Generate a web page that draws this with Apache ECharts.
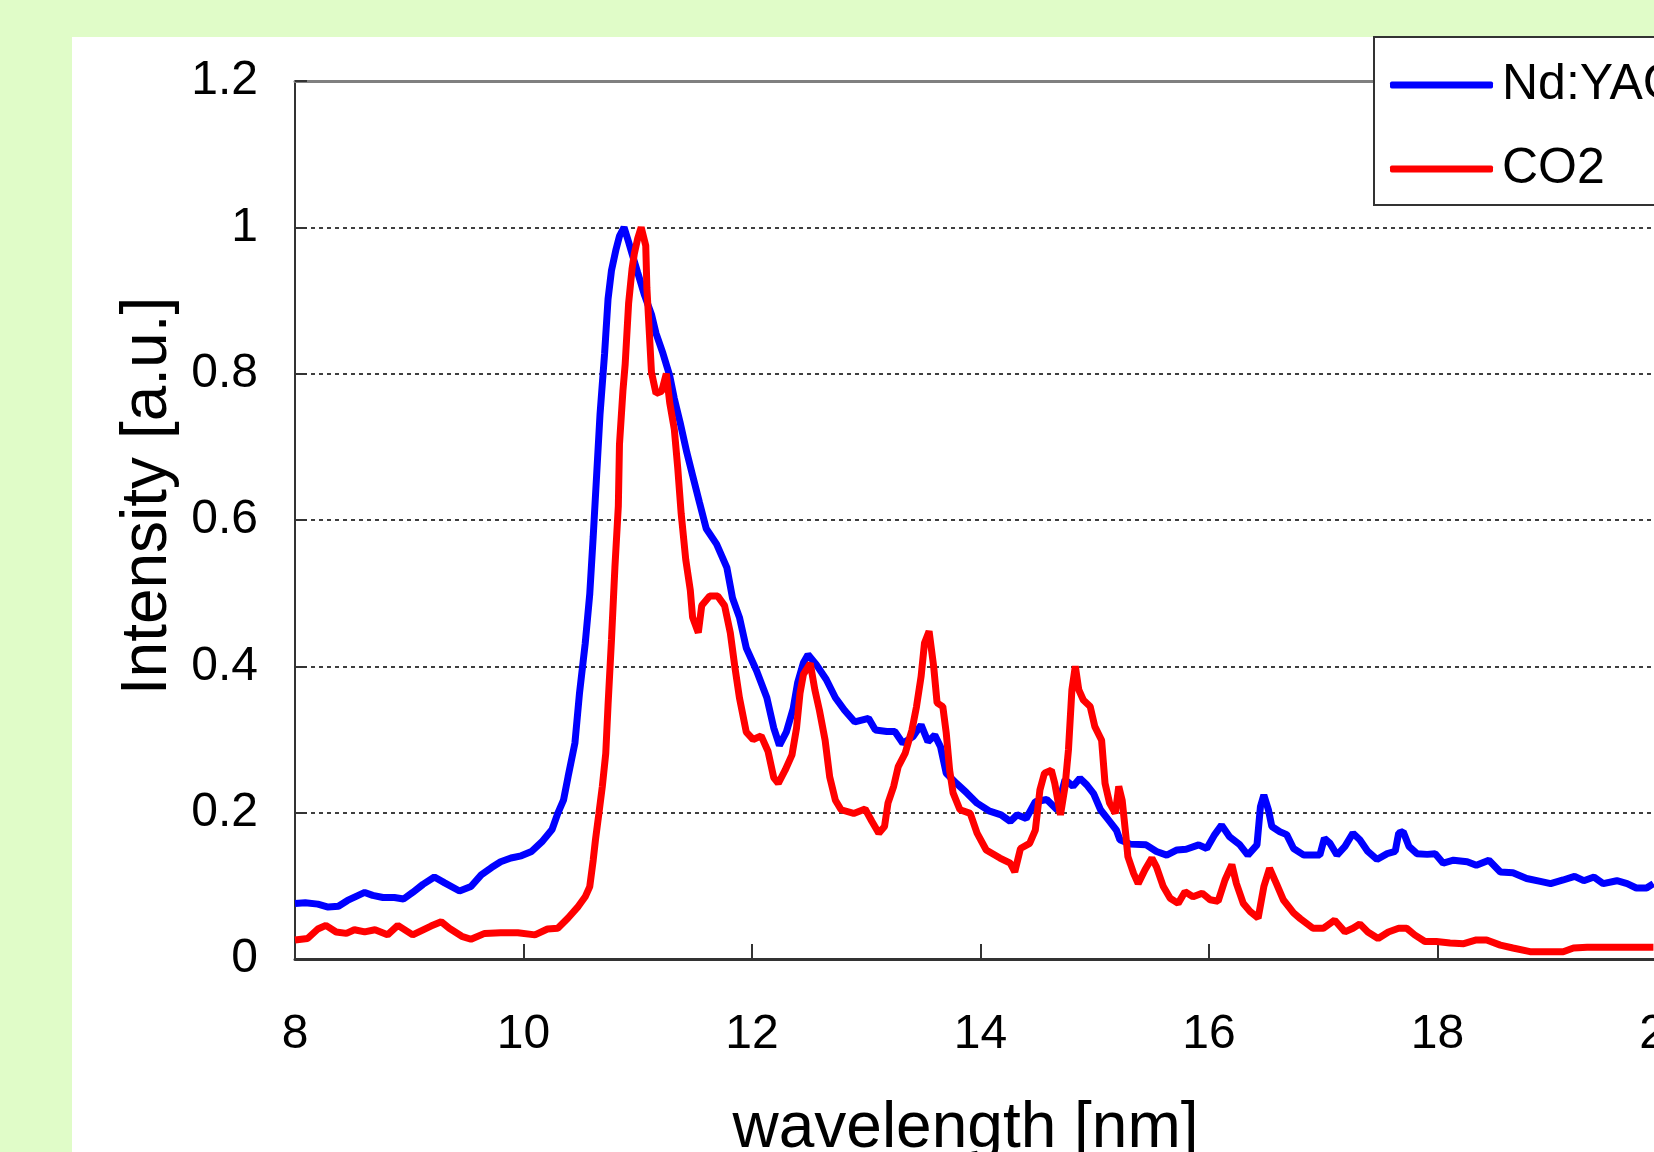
<!DOCTYPE html>
<html>
<head>
<meta charset="utf-8">
<title>Intensity vs wavelength</title>
<script src="https://cdn.jsdelivr.net/npm/echarts@6/dist/echarts.min.js"></script>
<style>
  html, body {
    margin: 0;
    padding: 0;
    width: 1654px;
    height: 1152px;
    overflow: hidden;
    background: #e0fcc8;
  }
  .panel {
    position: absolute;
    left: 72px;
    top: 37px;
    width: 1700px;
    height: 1200px;
    background: #fff;
  }
  #chart {
    position: absolute;
    left: 0;
    top: 0;
    width: 1720px;
    height: 1220px;
  }
</style>
</head>
<body>
<div class="panel"></div>
<div id="chart"></div>
<script>
// Nd:YAG spectrum (blue)
const yagWavelength = [
  8.00, 8.09, 8.20, 8.29, 8.38, 8.46, 8.54, 8.61, 8.68, 8.77, 8.87, 8.95, 9.03, 9.12, 9.22, 9.31,
  9.44, 9.54, 9.63, 9.72, 9.80, 9.89, 9.98, 10.07, 10.16, 10.25, 10.30, 10.35, 10.39, 10.45, 10.49,
  10.54, 10.58, 10.61, 10.64, 10.67, 10.71, 10.74, 10.77, 10.81, 10.84, 10.88, 10.92, 10.95, 11.00,
  11.06, 11.12, 11.16, 11.22, 11.28, 11.32, 11.37, 11.43, 11.48, 11.54, 11.60, 11.69, 11.78, 11.83,
  11.89, 11.95, 12.04, 12.13, 12.19, 12.24, 12.30, 12.36, 12.40, 12.45, 12.49, 12.56, 12.65, 12.73,
  12.81, 12.90, 13.02, 13.08, 13.18, 13.25, 13.32, 13.41, 13.48, 13.54, 13.60, 13.65, 13.70, 13.79,
  13.88, 13.97, 14.08, 14.18, 14.26, 14.32, 14.40, 14.48, 14.58, 14.67, 14.74, 14.81, 14.87, 14.93,
  14.99, 15.05, 15.13, 15.19, 15.22, 15.31, 15.45, 15.54, 15.63, 15.72, 15.80, 15.91, 15.98, 16.05,
  16.11, 16.18, 16.27, 16.34, 16.42, 16.45, 16.48, 16.52, 16.55, 16.62, 16.68, 16.74, 16.83, 16.97,
  17.01, 17.06, 17.12, 17.19, 17.26, 17.32, 17.39, 17.47, 17.56, 17.63, 17.66, 17.70, 17.75, 17.82,
  17.91, 17.98, 18.05, 18.14, 18.26, 18.34, 18.45, 18.55, 18.66, 18.78, 18.90, 18.99, 19.10, 19.20,
  19.28, 19.37, 19.45, 19.57, 19.66, 19.74, 19.83, 19.89
];
const yagIntensity = [
  0.076, 0.077, 0.075, 0.071, 0.072, 0.080, 0.086, 0.091, 0.087, 0.084, 0.084, 0.082, 0.091, 0.102, 0.112, 0.104,
  0.093, 0.099, 0.115, 0.125, 0.133, 0.138, 0.141, 0.147, 0.160, 0.177, 0.199, 0.217, 0.249, 0.295, 0.363,
  0.431, 0.499, 0.577, 0.661, 0.745, 0.828, 0.902, 0.941, 0.970, 0.988, 1.000, 0.980, 0.964, 0.938,
  0.907, 0.881, 0.855, 0.828, 0.797, 0.766, 0.734, 0.692, 0.661, 0.624, 0.588, 0.567, 0.535, 0.493,
  0.467, 0.425, 0.394, 0.357, 0.316, 0.292, 0.310, 0.342, 0.378, 0.405, 0.416, 0.403, 0.382, 0.357,
  0.340, 0.324, 0.329, 0.313, 0.311, 0.311, 0.295, 0.304, 0.320, 0.297, 0.306, 0.290, 0.254, 0.240,
  0.227, 0.213, 0.202, 0.197, 0.188, 0.197, 0.192, 0.215, 0.218, 0.204, 0.245, 0.236, 0.247, 0.238,
  0.226, 0.204, 0.188, 0.176, 0.163, 0.157, 0.156, 0.147, 0.142, 0.149, 0.150, 0.156, 0.151, 0.170,
  0.183, 0.167, 0.156, 0.142, 0.156, 0.208, 0.224, 0.204, 0.181, 0.174, 0.170, 0.151, 0.142, 0.142,
  0.165, 0.158, 0.142, 0.154, 0.172, 0.163, 0.147, 0.136, 0.144, 0.147, 0.172, 0.174, 0.154, 0.144,
  0.143, 0.144, 0.131, 0.135, 0.133, 0.128, 0.135, 0.119, 0.118, 0.110, 0.106, 0.103, 0.108, 0.113,
  0.107, 0.112, 0.103, 0.107, 0.103, 0.097, 0.097, 0.103
];

// CO2 spectrum (red)
const co2Wavelength = [
  8.00, 8.11, 8.20, 8.27, 8.36, 8.45, 8.52, 8.61, 8.70, 8.81, 8.90, 9.03, 9.19, 9.28, 9.35, 9.46,
  9.54, 9.66, 9.80, 9.95, 10.10, 10.21, 10.30, 10.39, 10.48, 10.54, 10.58, 10.61, 10.63, 10.66, 10.69,
  10.72, 10.74, 10.77, 10.80, 10.83, 10.84, 10.87, 10.89, 10.92, 10.95, 10.97, 11.00, 11.03, 11.07,
  11.08, 11.10, 11.12, 11.16, 11.21, 11.25, 11.28, 11.32, 11.35, 11.38, 11.42, 11.46, 11.48, 11.53,
  11.56, 11.63, 11.70, 11.76, 11.81, 11.85, 11.89, 11.95, 12.01, 12.08, 12.14, 12.19, 12.23, 12.29,
  12.35, 12.39, 12.42, 12.45, 12.51, 12.55, 12.59, 12.64, 12.68, 12.73, 12.78, 12.89, 12.99, 13.05,
  13.11, 13.16, 13.19, 13.24, 13.28, 13.34, 13.40, 13.44, 13.48, 13.51, 13.55, 13.59, 13.62, 13.67,
  13.70, 13.73, 13.76, 13.82, 13.91, 13.97, 14.05, 14.17, 14.26, 14.30, 14.35, 14.43, 14.48, 14.52,
  14.56, 14.62, 14.65, 14.70, 14.74, 14.77, 14.80, 14.83, 14.86, 14.90, 14.96, 15.00, 15.06, 15.09,
  15.13, 15.18, 15.21, 15.24, 15.27, 15.29, 15.34, 15.38, 15.44, 15.50, 15.54, 15.60, 15.66, 15.73,
  15.79, 15.86, 15.94, 16.01, 16.08, 16.14, 16.20, 16.24, 16.30, 16.36, 16.43, 16.48, 16.53, 16.59,
  16.65, 16.74, 16.80, 16.91, 17.00, 17.10, 17.19, 17.26, 17.32, 17.39, 17.48, 17.57, 17.66, 17.73,
  17.80, 17.89, 17.99, 18.11, 18.23, 18.34, 18.43, 18.55, 18.66, 18.81, 18.96, 19.10, 19.19, 19.31,
  19.57, 19.89
];
const co2Intensity = [
  0.026, 0.028, 0.041, 0.046, 0.037, 0.035, 0.040, 0.037, 0.040, 0.033, 0.046, 0.033, 0.045, 0.051, 0.042, 0.031,
  0.027, 0.035, 0.036, 0.036, 0.033, 0.041, 0.042, 0.056, 0.072, 0.085, 0.099, 0.135, 0.163, 0.199, 0.236,
  0.281, 0.347, 0.436, 0.535, 0.619, 0.703, 0.776, 0.813, 0.896, 0.943, 0.964, 0.985, 1.000, 0.975,
  0.917, 0.860, 0.802, 0.773, 0.776, 0.800, 0.760, 0.724, 0.671, 0.609, 0.546, 0.504, 0.467, 0.446,
  0.483, 0.496, 0.496, 0.483, 0.446, 0.399, 0.357, 0.310, 0.300, 0.305, 0.284, 0.248, 0.240, 0.258,
  0.279, 0.316, 0.363, 0.389, 0.404, 0.368, 0.340, 0.299, 0.249, 0.217, 0.204, 0.199, 0.205, 0.188,
  0.172, 0.181, 0.213, 0.236, 0.263, 0.281, 0.313, 0.345, 0.386, 0.432, 0.448, 0.400, 0.350, 0.345,
  0.309, 0.258, 0.227, 0.204, 0.199, 0.172, 0.149, 0.138, 0.131, 0.119, 0.151, 0.158, 0.176, 0.231,
  0.254, 0.258, 0.240, 0.197, 0.236, 0.286, 0.368, 0.400, 0.368, 0.354, 0.345, 0.318, 0.299, 0.240,
  0.213, 0.199, 0.236, 0.217, 0.172, 0.140, 0.117, 0.103, 0.122, 0.138, 0.126, 0.099, 0.083, 0.076,
  0.092, 0.085, 0.090, 0.081, 0.079, 0.108, 0.129, 0.103, 0.076, 0.065, 0.056, 0.099, 0.124, 0.103,
  0.081, 0.063, 0.055, 0.042, 0.042, 0.053, 0.037, 0.042, 0.048, 0.037, 0.028, 0.037, 0.042, 0.042,
  0.033, 0.024, 0.024, 0.022, 0.021, 0.026, 0.026, 0.019, 0.015, 0.010, 0.010, 0.010, 0.015, 0.016,
  0.016, 0.016
];

const seriesNames = ['Nd:YAG', 'CO2'];

const pairs = (xs, ys) => xs.map((x, i) => [x, ys[i]]);

const FONT = '"Liberation Sans", Arial, sans-serif';

const chart = echarts.init(document.getElementById('chart'));

const option = {
  animation: false,
  grid: {
    left: 295,
    top: 81,
    width: 1371,
    height: 878,
    show: false,
    outerBoundsMode: 'none'
  },
  legend: {
    data: seriesNames,
    orient: 'vertical',
    left: 1374,
    top: 37,
    icon: 'roundRect',
    itemWidth: 103,
    itemHeight: 7,
    itemGap: 34,
    padding: [23, 30, 11, 16],
    backgroundColor: '#fff',
    borderColor: '#333',
    borderWidth: 2,
    textStyle: {
      fontFamily: FONT,
      fontSize: 50,
      lineHeight: 50,
      color: '#000',
      padding: [0, 0, 0, 4]
    }
  },
  xAxis: [
    {
      type: 'value',
      min: 8,
      max: 20,
      interval: 2,
      name: 'wavelength [nm]',
      nameLocation: 'middle',
      nameGap: 138,
      nameTextStyle: {
        fontFamily: FONT,
        fontSize: 64,
        color: '#000',
        padding: [0, 30, 0, 0]
      },
      axisLine: { lineStyle: { color: '#333', width: 3 } },
      axisTick: { inside: true, length: 15, lineStyle: { color: '#333', width: 2 } },
      axisLabel: { fontFamily: FONT, fontSize: 48, color: '#000', margin: 52 },
      splitLine: { show: false }
    },
    {
      type: 'value',
      position: 'top',
      min: 8,
      max: 20,
      axisLine: { onZero: false, lineStyle: { color: '#808080', width: 3 } },
      axisTick: { show: false },
      axisLabel: { show: false },
      splitLine: { show: false }
    }
  ],
  yAxis: {
    type: 'value',
    min: 0,
    max: 1.2,
    interval: 0.2,
    name: 'Intensity [a.u.]',
    nameLocation: 'middle',
    nameRotate: 90,
    nameGap: 112,
    nameTextStyle: {
      fontFamily: FONT,
      fontSize: 64,
      color: '#000',
      padding: [0, 0, 0, 48]
    },
    axisLine: { show: true, lineStyle: { color: '#333', width: 2 } },
    axisTick: { show: true, inside: true, length: 12, lineStyle: { color: '#333', width: 2 } },
    axisLabel: { fontFamily: FONT, fontSize: 48, color: '#000', margin: 37 },
    splitLine: { show: true, lineStyle: { color: '#000', width: 1.5, type: [4, 4] } }
  },
  series: [
    {
      name: seriesNames[0],
      type: 'line',
      data: pairs(yagWavelength, yagIntensity),
      showSymbol: false,
      color: '#0000ff',
      lineStyle: { color: '#0000ff', width: 7 },
      z: 3
    },
    {
      name: seriesNames[1],
      type: 'line',
      data: pairs(co2Wavelength, co2Intensity),
      showSymbol: false,
      color: '#ff0000',
      lineStyle: { color: '#ff0000', width: 7 },
      z: 4
    }
  ]
};

chart.setOption(option);
</script>
</body>
</html>
